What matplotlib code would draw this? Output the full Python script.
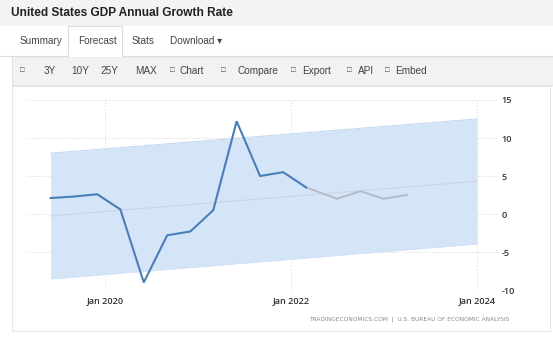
import matplotlib
matplotlib.use("Agg")
import matplotlib.pyplot as plt
from matplotlib.patches import Rectangle
import pandas as pd

# ---------------- data ----------------
actual_dates = ["2019-06-01", "2019-09-01", "2019-12-01", "2020-03-01", "2020-06-01",
                "2020-09-01", "2020-12-01", "2021-03-01", "2021-06-01", "2021-09-01",
                "2021-12-01", "2022-03-01"]
actual_values = [2.1, 2.3, 2.6, 0.6, -9.0, -2.8, -2.3, 0.5, 12.2, 5.0, 5.5, 3.5]

forecast_dates = ["2022-03-01", "2022-06-30", "2022-09-30", "2022-12-31", "2023-03-31"]
forecast_values = [3.5, 2.0, 3.0, 2.0, 2.5]

band_dates = ["2019-06-01", "2024-01-01"]
trend_values = [-0.25, 4.3]
band_upper = [8.0, 12.5]
band_lower = [-8.55, -3.95]

y_ticks = [-10, -5, 0, 5, 10, 15]
x_tick_dates = ["2020-01-01", "2022-01-01", "2024-01-01"]
x_tick_labels = ["Jan 2020", "Jan 2022", "Jan 2024"]

title = "United States GDP Annual Growth Rate"
tabs = ["Summary", "Forecast", "Stats", "Download \u25be"]
source = "TRADINGECONOMICS.COM  |  U.S. BUREAU OF ECONOMIC ANALYSIS"

# ---------------- figure ----------------
W, H = 553, 339
fig = plt.figure(figsize=(W / 100, H / 100), dpi=100)
fig.patch.set_facecolor("white")
FONT = "Liberation Sans"


def fx(x):
    return x / W


def fy(y):
    return 1 - y / H


def rect(x0, y0, x1, y1, fc, ec="none", lw=0.8, z=0):
    fig.patches.append(Rectangle((fx(x0), fy(y1)), fx(x1) - fx(x0), fy(y0) - fy(y1),
                                 transform=fig.transFigure, facecolor=fc, edgecolor=ec,
                                 linewidth=lw, zorder=z))


# header
rect(0, 0, W, 26, "#f3f3f3")
fig.text(fx(11), fy(12.5), title, fontsize=8.6, fontweight="bold", color="#222222",
         family=FONT, va="center", ha="left")
# tab row line
fig.add_artist(plt.Line2D([0, fx(68)], [fy(55.5)] * 2, color="#dddddd", lw=0.8, transform=fig.transFigure))
fig.add_artist(plt.Line2D([fx(122), 1], [fy(55.5)] * 2, color="#dddddd", lw=0.8, transform=fig.transFigure))
rect(68, 26, 122, 56, "white", ec="#dddddd", z=1)
rect(68.5, 54.5, 121.5, 57, "white", z=2)
tab_x = [20, 78, 132, 170]
for t, x in zip(tabs, tab_x):
    fig.text(fx(x), fy(41.5), t, fontsize=7.2, color="#444444", family=[FONT, "DejaVu Sans"],
             va="center", ha="left", zorder=3)

# toolbar
rect(12, 56, W + 2, 85, "#f2f2f2", ec="#e3e3e3")
tool_items = [("\u25a1", 20), ("3Y", 44), ("10Y", 71), ("25Y", 100), ("MAX", 135),
              ("\u25a1", 170), ("Chart", 180), ("\u25a1", 221), ("Compare", 237),
              ("\u25a1", 291), ("Export", 302), ("\u25a1", 347), ("API", 358),
              ("\u25a1", 385), ("Embed", 395)]
for t, x in tool_items:
    fig.text(fx(x), fy(71), t, fontsize=7.2 if t != "\u25a1" else 5.5, color="#444444",
             family=[FONT, "DejaVu Sans"], va="center", ha="left")

# chart panel
rect(12, 86, 550, 331, "white", ec="#e6e6e6")

# axes
ax = fig.add_axes([fx(28), fy(290), fx(498) - fx(28), fy(100) - fy(290)])
ax.set_facecolor("none")
ax.set_zorder(5)

bd = pd.to_datetime(band_dates)
ax.fill_between(bd, band_lower, band_upper, color="#d5e5f8", lw=0, zorder=1)
ax.plot(bd, band_upper, color="#c6d9f0", lw=0.8, zorder=1.5)
ax.plot(bd, band_lower, color="#d0e1f6", lw=0.6, zorder=1.5)
ax.plot(bd, trend_values, color="#cbd3de", lw=0.8, zorder=2)

ax.plot(pd.to_datetime(forecast_dates), forecast_values, color="#b3bcc8", lw=1.4, zorder=3,
        solid_joinstyle="miter")
ax.plot(pd.to_datetime(actual_dates), actual_values, color="#4a7eb8", lw=1.5, zorder=4,
        solid_joinstyle="miter")

ax.set_xlim(pd.Timestamp("2019-03-04"), pd.Timestamp("2024-03-24"))
ax.set_ylim(-10, 15)
ax.set_yticks(y_ticks)
ax.set_yticklabels([str(v) for v in y_ticks])
ax.set_xticks(pd.to_datetime(x_tick_dates))
ax.set_xticklabels(x_tick_labels)
ax.yaxis.tick_right()
ax.tick_params(axis="y", length=0, pad=2.5, labelsize=6.6, labelcolor="#333333")
ax.tick_params(axis="x", length=0, pad=4, labelsize=6.6, labelcolor="#333333")
for lab in ax.get_xticklabels() + ax.get_yticklabels():
    lab.set_family("Open Sans")
    lab.set_fontweight("semibold")
for s in ax.spines.values():
    s.set_visible(False)
ax.grid(True, color="#dcdcdc", lw=0.6, ls=(0, (2, 2)), zorder=0)
ax.set_axisbelow(True)

fig.text(fx(309), fy(319.5), source, fontsize=4.2, color="#8a8a8a", family="DejaVu Sans",
         va="center", ha="left")

fig.savefig("out.png", dpi=100)
